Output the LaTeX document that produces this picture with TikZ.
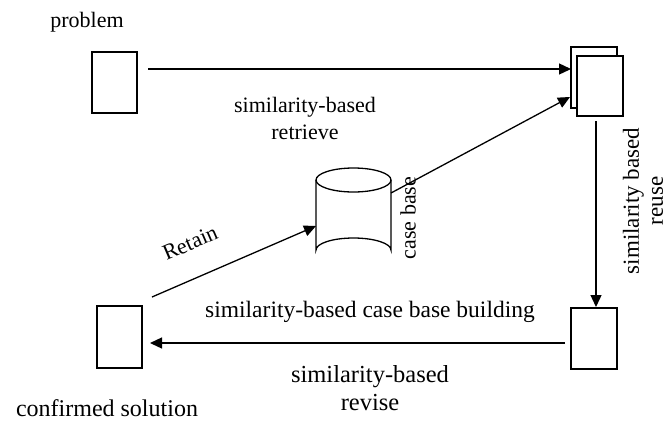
\documentclass[tikz,border=0pt]{standalone}
\usepackage{fontspec}
\setmainfont{Liberation Serif}
\usetikzlibrary{arrows.meta}
\begin{document}
\begin{tikzpicture}[x=1pt,y=-1pt,
  doc/.style={draw=black,line width=1.6pt,fill=white},
  conn/.style={draw=black,line width=1.3pt,-{Triangle[length=12pt,width=11pt]}},
  lbl/.style={inner sep=0pt,align=center,font=\fontsize{22}{27}\selectfont},
  biglbl/.style={inner sep=0pt,align=center,font=\fontsize{23.5}{28}\selectfont}]
\useasboundingbox[fill=white] (0,0) rectangle (668,421);
% boxes
\node[doc,minimum width=45pt,minimum height=61pt,inner sep=0pt] (prob) at (114.5,82.5) {};
\node[doc,minimum width=46pt,minimum height=61pt,inner sep=0pt] (back) at (594,77.5) {};
\node[doc,minimum width=46pt,minimum height=60pt,inner sep=0pt] (front) at (600,86) {};
\node[doc,minimum width=46pt,minimum height=61pt,inner sep=0pt] (rbox) at (594,338.5) {};
\node[doc,minimum width=45pt,minimum height=62pt,inner sep=0pt] (conf) at (119.5,337) {};
% cylinder
\draw[line width=1.3pt,fill=white] (316,180) -- (316,250) arc[start angle=180,end angle=360,x radius=37.5,y radius=12] -- (391,180);
\draw[line width=1.3pt] (353.5,180) ellipse[x radius=37.5,y radius=12];
\coordinate (cylL) at (316,226);
\coordinate (cylR) at (391,193);
% texts
\node[lbl] (tprob) at (87,22) {problem};
\node[lbl] (tret) at (305,118) {similarity-based\\retrieve};
\node[lbl,rotate=90] (tcb) at (408,218) {case base};
\node[biglbl,rotate=90,font=\fontsize{23}{24}\selectfont] (treuse) at (643,201) {similarity based\\reuse};
\node[lbl,rotate=23.4] (tretain) at (190,243) {Retain};
\node[biglbl] (tbuild) at (370,312) {similarity-based case base building};
\node[biglbl,font=\fontsize{24.5}{28}\selectfont] (trev) at (370,388) {similarity-based\\revise};
\node[biglbl,font=\fontsize{24}{28}\selectfont] (tconf) at (107,408) {confirmed solution};
% connectors
\coordinate (a1) at (148,69);
\coordinate (a2) at (571,69);
\draw[conn] (a1) -- (a2);
\coordinate (c2) at (570,97);
\draw[conn] (cylR) -- (c2);
\coordinate (r1) at (152,297);
\draw[conn] (r1) -- (cylL);
\coordinate (d1) at (596,121);
\coordinate (d2) at (596,307);
\draw[conn] (d1) -- (d2);
\coordinate (b1) at (565,343);
\coordinate (b2) at (150,343);
\draw[conn] (b1) -- (b2);
\end{tikzpicture}
\end{document}
